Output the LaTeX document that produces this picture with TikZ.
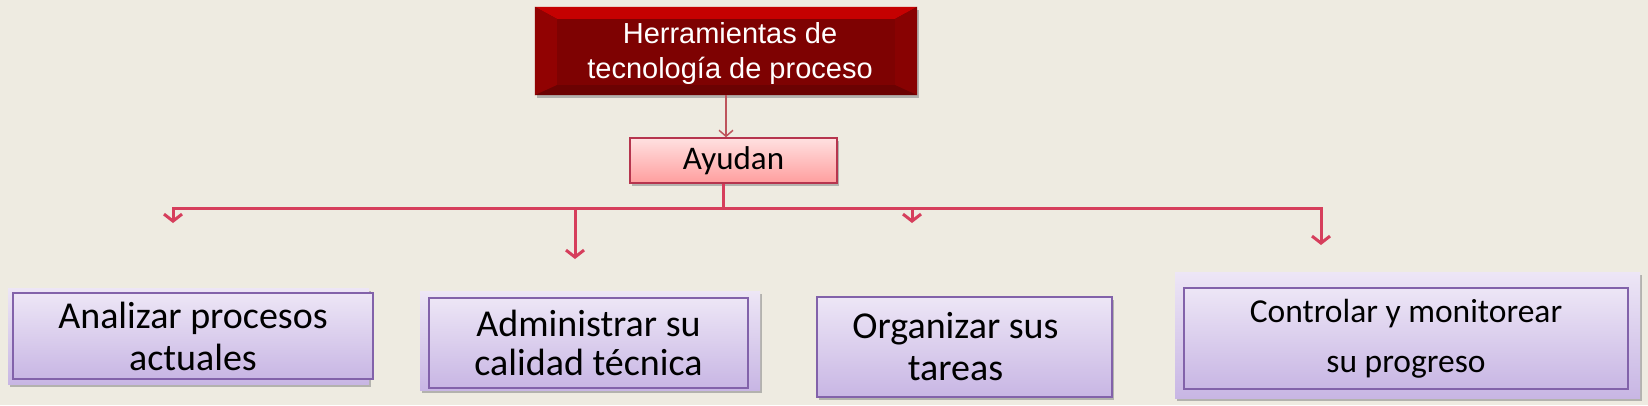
\documentclass[tikz,border=0pt]{standalone}
\usepackage{fontspec}
\setmainfont{Carlito}
\newfontfamily\titfont{Liberation Sans}
\usetikzlibrary{arrows.meta, shadows, positioning}
\definecolor{fondo}{RGB}{238,235,225}
\definecolor{rojo}{RGB}{214,62,92}
\definecolor{rojotenue}{RGB}{190,84,92}
\definecolor{granate}{RGB}{126,2,2}
\definecolor{lilaborde}{RGB}{130,98,170}
\definecolor{lilaclaro}{RGB}{237,230,246}
\definecolor{lilaoscuro}{RGB}{200,182,228}
\begin{document}
\begin{tikzpicture}[x=1pt, y=-1pt, >={Straight Barb[length=7pt,width=18pt]},
	sombra/.style={drop shadow={shadow xshift=2pt, shadow yshift=-3pt, fill=black!45, opacity=.6}},
	cabeza/.style={fill=granate, sombra, inner sep=0pt, align=center, text=white,
		font=\titfont\fontsize{29}{35}\selectfont},
	ayuda/.style={draw=rojo!85!black, line width=1.5pt, top color=red!12, bottom color=red!38,
		sombra, inner sep=0pt, font=\fontsize{33}{38}\selectfont},
	tarea/.style={draw=lilaborde, line width=1.5pt, top color=lilaclaro, bottom color=lilaoscuro,
		inner sep=0pt, align=center},
	marco/.style={top color=lilaclaro, bottom color=lilaoscuro, sombra},
	linea/.style={draw=rojo, line width=3pt},
	flecha/.style={draw=rojotenue, line width=1.5pt, >={Straight Barb[length=6pt,width=14pt]}}]
	%\draw [help lines] (0,0) grid (1648,405);
	\fill[fondo] (0,0) rectangle (1648,405);
	\useasboundingbox (0,0) rectangle (1648,405);

	\node[cabeza, minimum width=382pt, minimum height=88pt] (herr) at (726,51) {};
	\fill[red!55!granate] (herr.north west) -- (herr.north east) -- ([shift={(-22,12)}]herr.north east) -- ([shift={(22,12)}]herr.north west) -- cycle;
	\fill[granate!85!red] (herr.north west) -- ([shift={(22,12)}]herr.north west) -- ([shift={(22,-10)}]herr.south west) -- (herr.south west) -- cycle;
	\fill[granate!92!red] (herr.north east) -- ([shift={(-22,12)}]herr.north east) -- ([shift={(-22,-10)}]herr.south east) -- (herr.south east) -- cycle;
	\fill[granate!85!black] (herr.south west) -- ([shift={(22,-10)}]herr.south west) -- ([shift={(-22,-10)}]herr.south east) -- (herr.south east) -- cycle;
	\node[text=white, font=\titfont\fontsize{29}{35}\selectfont, align=center] (herrtxt) at ([shift={(4,2)}]herr) {Herramientas de\\tecnología de proceso};

	\node[ayuda, minimum width=207pt, minimum height=45pt] (ayu) at (733.5,160.5) {Ayudan};

	% marcos claros
	\path[marco] (8,288) rectangle (369,384);
	\path[marco] (420,291) rectangle (760,390);
	\path[marco] (817,297) rectangle (1112,397);
	\path[marco] (1175,272) rectangle (1640,398);

	\node[tarea, minimum width=360pt, minimum height=86pt, font=\fontsize{38}{42}\selectfont] (t1) at (193,336) {Analizar procesos\\actuales};
	\node[tarea, minimum width=319pt, minimum height=90pt, font=\fontsize{38}{39}\selectfont] (t2) at (588.5,343) {Administrar su\\calidad técnica};
	\node[tarea, minimum width=295pt, minimum height=100pt, font=\fontsize{38}{42}\selectfont] (t3) at (964.5,347) {Organizar sus\rule{18pt}{0pt}\\tareas\rule{18pt}{0pt}};
	\node[tarea, minimum width=444pt, minimum height=101pt, font=\fontsize{33.5}{50}\selectfont] (t4) at (1406,338.5) {Controlar y monitorear\\su progreso};

	\coordinate (eje) at (723,208);
	\coordinate (c1) at (173,223);
	\coordinate (c2) at (575,259);
	\coordinate (c3) at (912,223);
	\coordinate (c4) at (1321,245);

	\draw[flecha, ->] (herr.south) -- (herr.south |- ayu.north);
	\draw[linea] (eje |- ayu.south) -- (eje);
	\draw[linea, <->] (c1) -- (c1 |- eje) -- (c4 |- eje) -- (c4);
	\foreach \c in {c2, c3}
		\draw[linea, ->] (\c |- eje) -- (\c);
\end{tikzpicture}
\end{document}
